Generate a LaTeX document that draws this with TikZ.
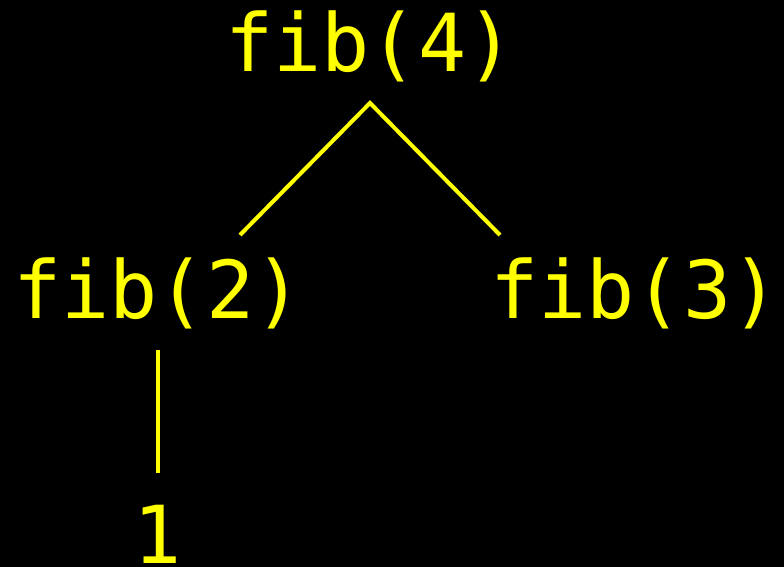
\documentclass[tikz,border=0pt]{standalone}
\usepackage{fontspec}
\setmonofont{DejaVu Sans Mono}
\definecolor{callyellow}{RGB}{255,255,0}
\begin{document}
\begin{tikzpicture}[x=1pt,y=-1pt,
  call/.style={text=callyellow,font=\ttfamily\fontsize{80}{80}\selectfont,anchor=base,inner sep=0pt},
  edge/.style={draw=callyellow,line width=4pt}]
  \fill[black] (0,0) rectangle (784,567);
  \useasboundingbox (0,0) rectangle (784,567);
  % call tree of fib(4)
  \node[call] (f4) at (370,72) {fib(4)};
  \node[call] (f2) at (158,318) {fib(2)};
  \node[call] (f3) at (635,318) {fib(3)};
  \node[call] (one) at (158,563) {1};
  % connector end points
  \coordinate (f4b) at (370,103);
  \coordinate (f2t) at (240,235);
  \coordinate (f3t) at (500,235);
  \coordinate (f2b) at (158,350);
  \coordinate (onet) at (158,473);
  \draw[edge] (f2t) -- (f4b) -- (f3t);
  \draw[edge] (f2b) -- (onet);
\end{tikzpicture}
\end{document}
